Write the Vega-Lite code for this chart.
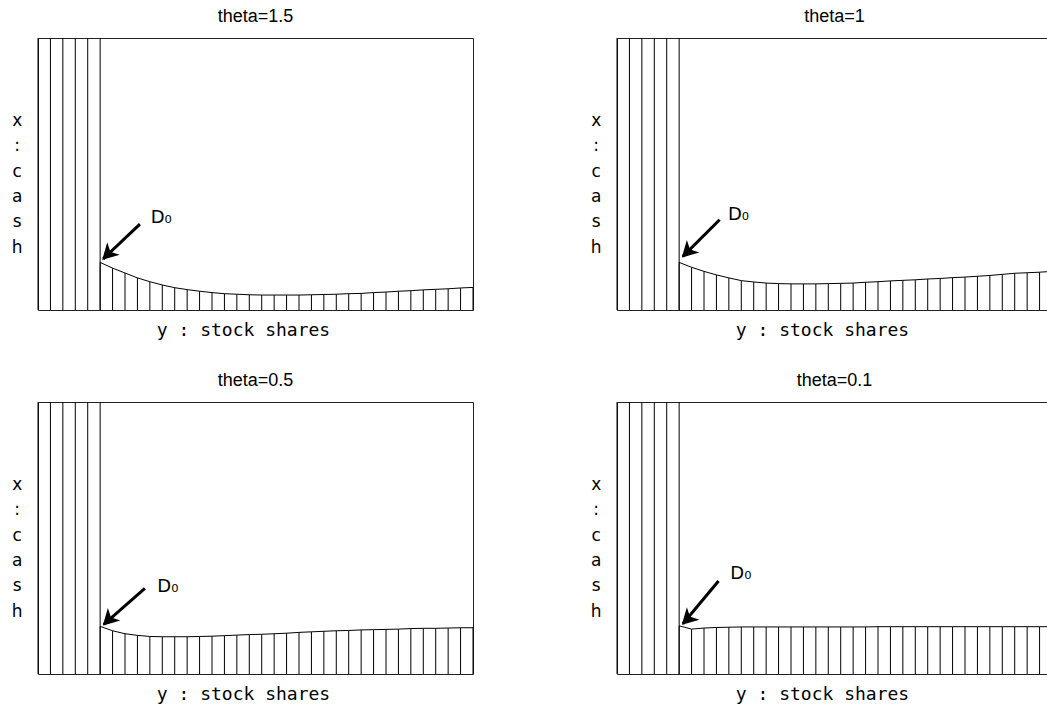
{
  "$schema": "https://vega.github.io/schema/vega-lite/v6.json",
  "padding": {"left": 10, "top": 7, "right": 0, "bottom": 0},
  "background": "white",
  "config": {
    "view": {"stroke": "#222", "strokeWidth": 1},
    "axis": {"domain": false, "ticks": false, "labels": false, "grid": false, "titleFont": "DejaVu Sans", "titleFontSize": 17, "titleFontWeight": "normal", "titleColor": "black"}
  },
  "data": {"values": [
    {"theta": "theta=1.5", "kind": "wall", "k": 0, "v": 1},
    {"theta": "theta=1.5", "kind": "wall", "k": 1, "v": 1},
    {"theta": "theta=1.5", "kind": "wall", "k": 2, "v": 1},
    {"theta": "theta=1.5", "kind": "wall", "k": 3, "v": 1},
    {"theta": "theta=1.5", "kind": "wall", "k": 4, "v": 1},
    {"theta": "theta=1.5", "kind": "wall", "k": 5, "v": 1},
    {"theta": "theta=1", "kind": "wall", "k": 0, "v": 1},
    {"theta": "theta=1", "kind": "wall", "k": 1, "v": 1},
    {"theta": "theta=1", "kind": "wall", "k": 2, "v": 1},
    {"theta": "theta=1", "kind": "wall", "k": 3, "v": 1},
    {"theta": "theta=1", "kind": "wall", "k": 4, "v": 1},
    {"theta": "theta=1", "kind": "wall", "k": 5, "v": 1},
    {"theta": "theta=0.5", "kind": "wall", "k": 0, "v": 1},
    {"theta": "theta=0.5", "kind": "wall", "k": 1, "v": 1},
    {"theta": "theta=0.5", "kind": "wall", "k": 2, "v": 1},
    {"theta": "theta=0.5", "kind": "wall", "k": 3, "v": 1},
    {"theta": "theta=0.5", "kind": "wall", "k": 4, "v": 1},
    {"theta": "theta=0.5", "kind": "wall", "k": 5, "v": 1},
    {"theta": "theta=0.1", "kind": "wall", "k": 0, "v": 1},
    {"theta": "theta=0.1", "kind": "wall", "k": 1, "v": 1},
    {"theta": "theta=0.1", "kind": "wall", "k": 2, "v": 1},
    {"theta": "theta=0.1", "kind": "wall", "k": 3, "v": 1},
    {"theta": "theta=0.1", "kind": "wall", "k": 4, "v": 1},
    {"theta": "theta=0.1", "kind": "wall", "k": 5, "v": 1},

    {"theta": "theta=1.5", "kind": "curve", "k": 5, "v": 0.175},
    {"theta": "theta=1.5", "kind": "curve", "k": 6, "v": 0.154},
    {"theta": "theta=1.5", "kind": "curve", "k": 7, "v": 0.136},
    {"theta": "theta=1.5", "kind": "curve", "k": 8, "v": 0.118},
    {"theta": "theta=1.5", "kind": "curve", "k": 9, "v": 0.104},
    {"theta": "theta=1.5", "kind": "curve", "k": 10, "v": 0.092},
    {"theta": "theta=1.5", "kind": "curve", "k": 11, "v": 0.082},
    {"theta": "theta=1.5", "kind": "curve", "k": 12, "v": 0.075},
    {"theta": "theta=1.5", "kind": "curve", "k": 13, "v": 0.069},
    {"theta": "theta=1.5", "kind": "curve", "k": 14, "v": 0.064},
    {"theta": "theta=1.5", "kind": "curve", "k": 15, "v": 0.060},
    {"theta": "theta=1.5", "kind": "curve", "k": 16, "v": 0.058},
    {"theta": "theta=1.5", "kind": "curve", "k": 17, "v": 0.056},
    {"theta": "theta=1.5", "kind": "curve", "k": 18, "v": 0.055},
    {"theta": "theta=1.5", "kind": "curve", "k": 19, "v": 0.055},
    {"theta": "theta=1.5", "kind": "curve", "k": 20, "v": 0.055},
    {"theta": "theta=1.5", "kind": "curve", "k": 21, "v": 0.055},
    {"theta": "theta=1.5", "kind": "curve", "k": 22, "v": 0.056},
    {"theta": "theta=1.5", "kind": "curve", "k": 23, "v": 0.057},
    {"theta": "theta=1.5", "kind": "curve", "k": 24, "v": 0.058},
    {"theta": "theta=1.5", "kind": "curve", "k": 25, "v": 0.060},
    {"theta": "theta=1.5", "kind": "curve", "k": 26, "v": 0.061},
    {"theta": "theta=1.5", "kind": "curve", "k": 27, "v": 0.064},
    {"theta": "theta=1.5", "kind": "curve", "k": 28, "v": 0.066},
    {"theta": "theta=1.5", "kind": "curve", "k": 29, "v": 0.069},
    {"theta": "theta=1.5", "kind": "curve", "k": 30, "v": 0.071},
    {"theta": "theta=1.5", "kind": "curve", "k": 31, "v": 0.074},
    {"theta": "theta=1.5", "kind": "curve", "k": 32, "v": 0.076},
    {"theta": "theta=1.5", "kind": "curve", "k": 33, "v": 0.078},
    {"theta": "theta=1.5", "kind": "curve", "k": 34, "v": 0.081},
    {"theta": "theta=1.5", "kind": "curve", "k": 35, "v": 0.083},

    {"theta": "theta=1", "kind": "curve", "k": 5, "v": 0.175},
    {"theta": "theta=1", "kind": "curve", "k": 6, "v": 0.157},
    {"theta": "theta=1", "kind": "curve", "k": 7, "v": 0.142},
    {"theta": "theta=1", "kind": "curve", "k": 8, "v": 0.129},
    {"theta": "theta=1", "kind": "curve", "k": 9, "v": 0.118},
    {"theta": "theta=1", "kind": "curve", "k": 10, "v": 0.108},
    {"theta": "theta=1", "kind": "curve", "k": 11, "v": 0.103},
    {"theta": "theta=1", "kind": "curve", "k": 12, "v": 0.099},
    {"theta": "theta=1", "kind": "curve", "k": 13, "v": 0.097},
    {"theta": "theta=1", "kind": "curve", "k": 14, "v": 0.096},
    {"theta": "theta=1", "kind": "curve", "k": 15, "v": 0.096},
    {"theta": "theta=1", "kind": "curve", "k": 16, "v": 0.096},
    {"theta": "theta=1", "kind": "curve", "k": 17, "v": 0.097},
    {"theta": "theta=1", "kind": "curve", "k": 18, "v": 0.098},
    {"theta": "theta=1", "kind": "curve", "k": 19, "v": 0.099},
    {"theta": "theta=1", "kind": "curve", "k": 20, "v": 0.102},
    {"theta": "theta=1", "kind": "curve", "k": 21, "v": 0.104},
    {"theta": "theta=1", "kind": "curve", "k": 22, "v": 0.107},
    {"theta": "theta=1", "kind": "curve", "k": 23, "v": 0.109},
    {"theta": "theta=1", "kind": "curve", "k": 24, "v": 0.111},
    {"theta": "theta=1", "kind": "curve", "k": 25, "v": 0.114},
    {"theta": "theta=1", "kind": "curve", "k": 26, "v": 0.116},
    {"theta": "theta=1", "kind": "curve", "k": 27, "v": 0.119},
    {"theta": "theta=1", "kind": "curve", "k": 28, "v": 0.121},
    {"theta": "theta=1", "kind": "curve", "k": 29, "v": 0.124},
    {"theta": "theta=1", "kind": "curve", "k": 30, "v": 0.127},
    {"theta": "theta=1", "kind": "curve", "k": 31, "v": 0.131},
    {"theta": "theta=1", "kind": "curve", "k": 32, "v": 0.135},
    {"theta": "theta=1", "kind": "curve", "k": 33, "v": 0.137},
    {"theta": "theta=1", "kind": "curve", "k": 34, "v": 0.139},
    {"theta": "theta=1", "kind": "curve", "k": 35, "v": 0.142},

    {"theta": "theta=0.5", "kind": "curve", "k": 5, "v": 0.175},
    {"theta": "theta=0.5", "kind": "curve", "k": 6, "v": 0.159},
    {"theta": "theta=0.5", "kind": "curve", "k": 7, "v": 0.148},
    {"theta": "theta=0.5", "kind": "curve", "k": 8, "v": 0.142},
    {"theta": "theta=0.5", "kind": "curve", "k": 9, "v": 0.138},
    {"theta": "theta=0.5", "kind": "curve", "k": 10, "v": 0.137},
    {"theta": "theta=0.5", "kind": "curve", "k": 11, "v": 0.137},
    {"theta": "theta=0.5", "kind": "curve", "k": 12, "v": 0.137},
    {"theta": "theta=0.5", "kind": "curve", "k": 13, "v": 0.138},
    {"theta": "theta=0.5", "kind": "curve", "k": 14, "v": 0.139},
    {"theta": "theta=0.5", "kind": "curve", "k": 15, "v": 0.141},
    {"theta": "theta=0.5", "kind": "curve", "k": 16, "v": 0.143},
    {"theta": "theta=0.5", "kind": "curve", "k": 17, "v": 0.145},
    {"theta": "theta=0.5", "kind": "curve", "k": 18, "v": 0.146},
    {"theta": "theta=0.5", "kind": "curve", "k": 19, "v": 0.148},
    {"theta": "theta=0.5", "kind": "curve", "k": 20, "v": 0.150},
    {"theta": "theta=0.5", "kind": "curve", "k": 21, "v": 0.153},
    {"theta": "theta=0.5", "kind": "curve", "k": 22, "v": 0.155},
    {"theta": "theta=0.5", "kind": "curve", "k": 23, "v": 0.157},
    {"theta": "theta=0.5", "kind": "curve", "k": 24, "v": 0.159},
    {"theta": "theta=0.5", "kind": "curve", "k": 25, "v": 0.160},
    {"theta": "theta=0.5", "kind": "curve", "k": 26, "v": 0.162},
    {"theta": "theta=0.5", "kind": "curve", "k": 27, "v": 0.163},
    {"theta": "theta=0.5", "kind": "curve", "k": 28, "v": 0.164},
    {"theta": "theta=0.5", "kind": "curve", "k": 29, "v": 0.165},
    {"theta": "theta=0.5", "kind": "curve", "k": 30, "v": 0.167},
    {"theta": "theta=0.5", "kind": "curve", "k": 31, "v": 0.168},
    {"theta": "theta=0.5", "kind": "curve", "k": 32, "v": 0.168},
    {"theta": "theta=0.5", "kind": "curve", "k": 33, "v": 0.169},
    {"theta": "theta=0.5", "kind": "curve", "k": 34, "v": 0.170},
    {"theta": "theta=0.5", "kind": "curve", "k": 35, "v": 0.170},

    {"theta": "theta=0.1", "kind": "curve", "k": 5, "v": 0.177},
    {"theta": "theta=0.1", "kind": "curve", "k": 6, "v": 0.165},
    {"theta": "theta=0.1", "kind": "curve", "k": 7, "v": 0.169},
    {"theta": "theta=0.1", "kind": "curve", "k": 8, "v": 0.171},
    {"theta": "theta=0.1", "kind": "curve", "k": 9, "v": 0.172},
    {"theta": "theta=0.1", "kind": "curve", "k": 10, "v": 0.173},
    {"theta": "theta=0.1", "kind": "curve", "k": 11, "v": 0.173},
    {"theta": "theta=0.1", "kind": "curve", "k": 12, "v": 0.173},
    {"theta": "theta=0.1", "kind": "curve", "k": 13, "v": 0.173},
    {"theta": "theta=0.1", "kind": "curve", "k": 14, "v": 0.173},
    {"theta": "theta=0.1", "kind": "curve", "k": 15, "v": 0.173},
    {"theta": "theta=0.1", "kind": "curve", "k": 16, "v": 0.173},
    {"theta": "theta=0.1", "kind": "curve", "k": 17, "v": 0.173},
    {"theta": "theta=0.1", "kind": "curve", "k": 18, "v": 0.173},
    {"theta": "theta=0.1", "kind": "curve", "k": 19, "v": 0.173},
    {"theta": "theta=0.1", "kind": "curve", "k": 20, "v": 0.173},
    {"theta": "theta=0.1", "kind": "curve", "k": 21, "v": 0.174},
    {"theta": "theta=0.1", "kind": "curve", "k": 22, "v": 0.174},
    {"theta": "theta=0.1", "kind": "curve", "k": 23, "v": 0.174},
    {"theta": "theta=0.1", "kind": "curve", "k": 24, "v": 0.174},
    {"theta": "theta=0.1", "kind": "curve", "k": 25, "v": 0.174},
    {"theta": "theta=0.1", "kind": "curve", "k": 26, "v": 0.174},
    {"theta": "theta=0.1", "kind": "curve", "k": 27, "v": 0.174},
    {"theta": "theta=0.1", "kind": "curve", "k": 28, "v": 0.174},
    {"theta": "theta=0.1", "kind": "curve", "k": 29, "v": 0.174},
    {"theta": "theta=0.1", "kind": "curve", "k": 30, "v": 0.174},
    {"theta": "theta=0.1", "kind": "curve", "k": 31, "v": 0.174},
    {"theta": "theta=0.1", "kind": "curve", "k": 32, "v": 0.174},
    {"theta": "theta=0.1", "kind": "curve", "k": 33, "v": 0.174},
    {"theta": "theta=0.1", "kind": "curve", "k": 34, "v": 0.174},
    {"theta": "theta=0.1", "kind": "curve", "k": 35, "v": 0.174},

    {"theta": "theta=1.5", "kind": "arrow", "k": 8.2, "v": 0.316, "k2": 5.25, "v2": 0.188, "kt": 9.07, "vt": 0.320, "label": "D₀"},
    {"theta": "theta=1", "kind": "arrow", "k": 8.26, "v": 0.332, "k2": 5.3, "v2": 0.197, "kt": 8.93, "vt": 0.332, "label": "D₀"},
    {"theta": "theta=0.5", "kind": "arrow", "k": 8.6, "v": 0.315, "k2": 5.3, "v2": 0.182, "kt": 9.6, "vt": 0.303, "label": "D₀"},
    {"theta": "theta=0.1", "kind": "arrow", "k": 8.17, "v": 0.342, "k2": 5.3, "v2": 0.185, "kt": 9.12, "vt": 0.348, "label": "D₀"}
  ]},
  "facet": {
    "field": "theta", "type": "nominal",
    "sort": ["theta=1.5", "theta=1", "theta=0.5", "theta=0.1"],
    "header": {"title": null, "labelFont": "Liberation Sans", "labelFontSize": 18, "labelColor": "black", "labelBaseline": "alphabetic", "labelPadding": -2}
  },
  "columns": 2,
  "spacing": {"row": 31, "column": 113},
  "resolve": {"axis": {"x": "independent", "y": "independent"}},
  "spec": {
    "width": 435,
    "height": 272,
    "layer": [
      {
        "transform": [{"filter": "datum.kind !== 'arrow'"}],
        "mark": {"type": "rule", "color": "black", "strokeWidth": 1},
        "encoding": {
          "x": {"field": "k", "type": "quantitative", "scale": {"domain": [0, 35], "nice": false, "zero": false},
                "axis": {"title": "y : stock shares", "titleFont": "DejaVu Sans Mono", "titleFontSize": 18, "titleX": 205, "titleY": 25, "titleBaseline": "alphabetic", "titleAlign": "center", "titleAnchor": null}},
          "y": {"field": "v", "type": "quantitative", "scale": {"domain": [0, 1], "nice": false, "zero": false},
                "axis": {"title": ["x", ":", "c", "a", "s", "h"], "titleAngle": 0, "titleX": -21.3, "titleY": 87.7, "titleBaseline": "alphabetic", "titleAlign": "center", "titleLineHeight": 25.3}},
          "y2": {"datum": 0}
        }
      },
      {
        "transform": [{"filter": "datum.kind === 'curve'"}],
        "mark": {"type": "line", "color": "black", "strokeWidth": 1},
        "encoding": {
          "x": {"field": "k", "type": "quantitative"},
          "y": {"field": "v", "type": "quantitative"}
        }
      },
      {
        "transform": [{"filter": "datum.kind === 'arrow'"}],
        "mark": {"type": "rule", "color": "black", "strokeWidth": 3},
        "encoding": {
          "x": {"field": "k", "type": "quantitative"},
          "y": {"field": "v", "type": "quantitative"},
          "x2": {"field": "k2"},
          "y2": {"field": "v2"}
        }
      },
      {
        "transform": [{"filter": "datum.kind === 'arrow'"}],
        "mark": {"type": "point", "shape": "M0,0L-0.55,1L0,0.72L0.55,1Z", "angle": 225, "filled": true, "fill": "black", "stroke": "black", "strokeWidth": 1.5, "strokeJoin": "miter", "size": 650, "opacity": 1},
        "encoding": {
          "x": {"field": "k2", "type": "quantitative"},
          "y": {"field": "v2", "type": "quantitative"}
        }
      },
      {
        "transform": [{"filter": "datum.kind === 'arrow'"}],
        "mark": {"type": "text", "font": "DejaVu Sans", "fontSize": 18, "align": "left", "baseline": "alphabetic", "color": "black"},
        "encoding": {
          "x": {"field": "kt", "type": "quantitative"},
          "y": {"field": "vt", "type": "quantitative"},
          "text": {"field": "label"}
        }
      }
    ]
  }
}
